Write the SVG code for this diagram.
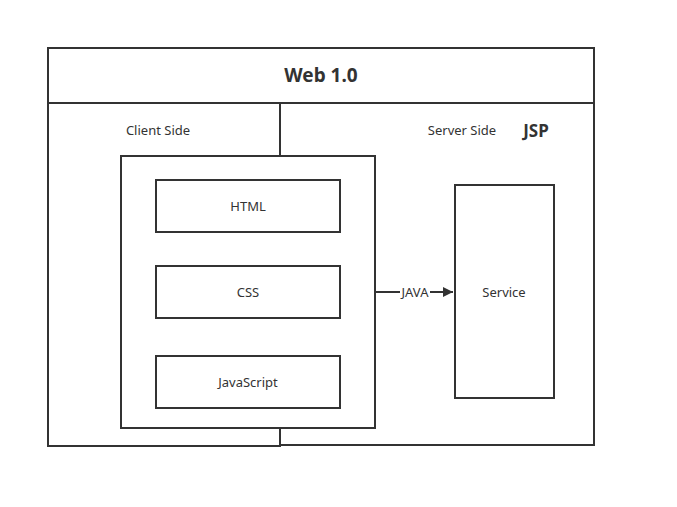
<svg xmlns="http://www.w3.org/2000/svg" width="677" height="507" viewBox="0 0 677 507">
<defs>
<style>
.b{fill:#fff;stroke:#333;stroke-width:2}
.n{fill:none;stroke:#333;stroke-width:2}
.t{font-family:"Noto Sans","Open Sans","DejaVu Sans",sans-serif;font-size:13px;fill:#333;text-anchor:middle}
.h{font-family:"Noto Sans","Open Sans","DejaVu Sans",sans-serif;font-size:19px;font-weight:bold;fill:#333;text-anchor:middle}
</style>
<marker id="ar" viewBox="0 0 10 10" refX="10" refY="5" markerWidth="16" markerHeight="10" markerUnits="userSpaceOnUse" orient="auto">
<path d="M0,0 L10,5 L0,10 z" fill="#333"/>
</marker>
</defs>
<rect width="677" height="507" fill="#fff"/>
<g id="web10">
<rect class="b" x="48" y="48" width="546" height="55"/>
<text class="h" x="321" y="82">Web 1.0</text>
</g>
<g id="server-side">
<rect class="b" x="280" y="103" width="314" height="342"/>
<text class="t" x="462" y="135">Server Side</text>
<text class="h" x="536" y="137" style="font-size:17px">JSP</text>
</g>
<g id="client-side">
<rect class="b" x="48" y="103" width="232" height="343"/>
<text class="t" x="158" y="135">Client Side</text>
</g>
<g id="client">
<rect class="b" x="121" y="156" width="254" height="272"/>
</g>
<g id="html">
<rect class="b" x="156" y="180" width="184" height="52"/>
<text class="t" x="248" y="211">HTML</text>
</g>
<g id="css">
<rect class="b" x="156" y="266" width="184" height="52"/>
<text class="t" x="248" y="297">CSS</text>
</g>
<g id="javascript">
<rect class="b" x="156" y="356" width="184" height="52"/>
<text class="t" x="248" y="387">JavaScript</text>
</g>
<g id="service">
<rect class="b" x="455" y="185" width="99" height="213"/>
<text class="t" x="504" y="297">Service</text>
</g>
<g id="connectors">
<path class="n" d="M375,292 H400"/>
<path class="n" d="M430,292 H453" marker-end="url(#ar)"/>
<text class="t" x="415" y="297">JAVA</text>
</g>
</svg>
